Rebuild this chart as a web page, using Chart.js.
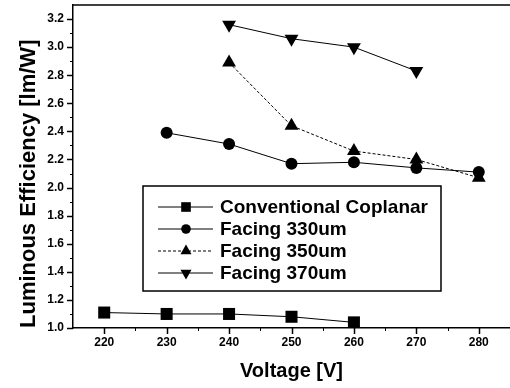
<!DOCTYPE html>
<html>
<head>
<meta charset="utf-8">
<script src="https://cdn.jsdelivr.net/npm/chart.js@4.4.0/dist/chart.umd.min.js"></script>
<style>
html,body{margin:0;padding:0;background:#fff;}
#wrap{width:510px;height:388px;}
</style>
</head>
<body>
<div id="wrap"><canvas id="effChart" width="510" height="388"></canvas></div>
<script>
// values
var voltage   = [220, 230, 240, 250, 260, 270, 280];
var coplanar  = [1.11, 1.10, 1.10, 1.08, 1.04, null, null];
var facing330 = [null, 2.39, 2.31, 2.17, 2.18, 2.14, 2.11];
var facing350 = [null, null, 2.89, 2.44, 2.26, 2.20, 2.07];
var facing370 = [null, null, 3.16, 3.06, 3.00, 2.83, null];
var seriesNames = ["Conventional Coplanar", "Facing 330um", "Facing 350um", "Facing 370um"];
var xTicks = [220, 230, 240, 250, 260, 270, 280];
var yTicks = [1.0, 1.2, 1.4, 1.6, 1.8, 2.0, 2.2, 2.4, 2.6, 2.8, 3.0, 3.2];

var FONT = "'Liberation Sans', Arial, sans-serif";

function toPoints(arr){
	var pts = [];
	for (var i=0;i<voltage.length;i++){
		if (arr[i] != null) pts.push({x: voltage[i], y: arr[i]});
	}
	return pts;
}

function makeSet(label, arr, style, radius, rot, dash){
	return {
		label: label,
		data: toPoints(arr),
		borderColor: '#000',
		backgroundColor: '#000',
		borderWidth: 1,
		borderDash: dash,
		pointStyle: style,
		pointRadius: radius,
		pointHoverRadius: radius,
		pointRotation: rot,
		pointBorderWidth: 0,
		fill: false,
		tension: 0
	};
}

// marker for the legend box
function drawMarker(ctx, style, x, y, r, rot){
	ctx.beginPath();
	if (style == 'rect'){
		var s = Math.SQRT1_2 * r;
		ctx.rect(x - s, y - s, 2*s, 2*s);
	} else if (style == 'circle'){
		ctx.arc(x, y, r, 0, Math.PI*2);
	} else {
		var a = (rot || 0) * Math.PI / 180;
		for (var k=0;k<3;k++){
			var px = x + Math.sin(a) * r, py = y - Math.cos(a) * r;
			if (k==0) ctx.moveTo(px, py); else ctx.lineTo(px, py);
			a += Math.PI * 2 / 3;
		}
		ctx.closePath();
	}
	ctx.fill();
}

var framePlugin = {
	id: 'frame',
	afterDraw: function(chart){
		var ctx = chart.ctx, ca = chart.chartArea;
		var xs = chart.scales.x, ys = chart.scales.y;
		ctx.save();
		ctx.strokeStyle = '#000';
		ctx.lineWidth = 1.5;
		// top border
		ctx.beginPath();
		ctx.moveTo(ca.left, ca.top);
		ctx.lineTo(ca.right, ca.top);
		ctx.stroke();
		// major ticks
		ctx.beginPath();
		xTicks.forEach(function(v){
			var px = Math.round(xs.getPixelForValue(v)) + 0.5;
			ctx.moveTo(px, ca.bottom); ctx.lineTo(px, ca.bottom + 6);
		});
		yTicks.forEach(function(v){
			var py = Math.round(ys.getPixelForValue(v)) + 0.5;
			ctx.moveTo(ca.left, py); ctx.lineTo(ca.left - 6, py);
		});
		ctx.stroke();
		// minor ticks
		ctx.lineWidth = 1;
		ctx.beginPath();
		for (var v=225; v<285; v+=10){
			var px = Math.round(xs.getPixelForValue(v)) + 0.5;
			ctx.moveTo(px, ca.bottom); ctx.lineTo(px, ca.bottom + 3);
		}
		for (var t=11; t<33; t+=2){
			var py = Math.round(ys.getPixelForValue(t/10)) + 0.5;
			ctx.moveTo(ca.left, py); ctx.lineTo(ca.left - 3, py);
		}
		ctx.stroke();

		// legend box
		var bx = 143, by = 186, bw = 298, bh = 105;
		ctx.lineWidth = 1.5;
		ctx.strokeRect(bx, by, bw, bh);
		var rowY = [207, 229, 251, 273];
		ctx.font = "bold 19px " + FONT;
		ctx.textBaseline = 'middle';
		ctx.textAlign = 'left';
		ctx.fillStyle = '#000';
		chart.data.datasets.forEach(function(ds, i){
			var y = rowY[i];
			ctx.lineWidth = 1;
			ctx.setLineDash(ds.borderDash || []);
			ctx.beginPath();
			ctx.moveTo(158, y); ctx.lineTo(213, y);
			ctx.stroke();
			ctx.setLineDash([]);
			drawMarker(ctx, ds.pointStyle, 186, y, ds.pointRadius * 0.8, ds.pointRotation);
			ctx.fillText(ds.label, 220, y + 1);
		});
		ctx.restore();
	}
};

var effChart = new Chart(document.getElementById("effChart"), {
	type: 'line',
	data: {
		datasets: [
			makeSet(seriesNames[0], coplanar, 'rect', 8.5, 0, []),
			makeSet(seriesNames[1], facing330, 'circle', 6, 0, []),
			makeSet(seriesNames[2], facing350, 'triangle', 8, 0, [3, 2]),
			makeSet(seriesNames[3], facing370, 'triangle', 8, 180, [])
		]
	},
	options: {
		responsive: false,
		animation: false,
		devicePixelRatio: 1,
		layout: { autoPadding: false, padding: { top: 5, right: 0, left: 0, bottom: 0 } },
		plugins: {
			legend: { display: false },
			tooltip: { enabled: false }
		},
		scales: {
			x: {
				type: 'linear',
				min: 215,
				max: 285,
				afterBuildTicks: function(s){
					s.ticks = xTicks.map(function(v){ return {value: v}; });
				},
				afterFit: function(s){ s.height = 60; s.paddingLeft = 0; s.paddingRight = 0; },
				border: { display: true, color: '#000', width: 1.5 },
				grid: { display: false, drawTicks: true, tickLength: 6 },
				ticks: {
					color: '#000',
					padding: 1,
					maxRotation: 0,
					font: { family: FONT, size: 12, weight: 'bold' }
				},
				title: {
					display: true,
					text: 'Voltage [V]',
					color: '#000',
					padding: { top: 0, bottom: 5 },
					font: { family: FONT, size: 20, weight: 'bold' }
				}
			},
			y: {
				min: 1.0,
				max: 3.3,
				afterBuildTicks: function(s){
					s.ticks = yTicks.map(function(v){ return {value: v}; });
				},
				afterFit: function(s){ s.width = 73; s.paddingTop = 0; s.paddingBottom = 0; },
				border: { display: true, color: '#000', width: 1.5 },
				grid: { display: false, drawTicks: true, tickLength: 6 },
				ticks: {
					color: '#000',
					padding: 3,
					font: { family: FONT, size: 12, weight: 'bold' },
					callback: function(v){ return v.toFixed(1); }
				},
				title: {
					display: true,
					text: 'Luminous Efficiency [lm/W]',
					align: 'start',
					color: '#000',
					padding: { top: 16, bottom: 0 },
					font: { family: FONT, size: 22, weight: 'bold' }
				}
			}
		}
	},
	plugins: [framePlugin]
});
</script>
</body>
</html>
